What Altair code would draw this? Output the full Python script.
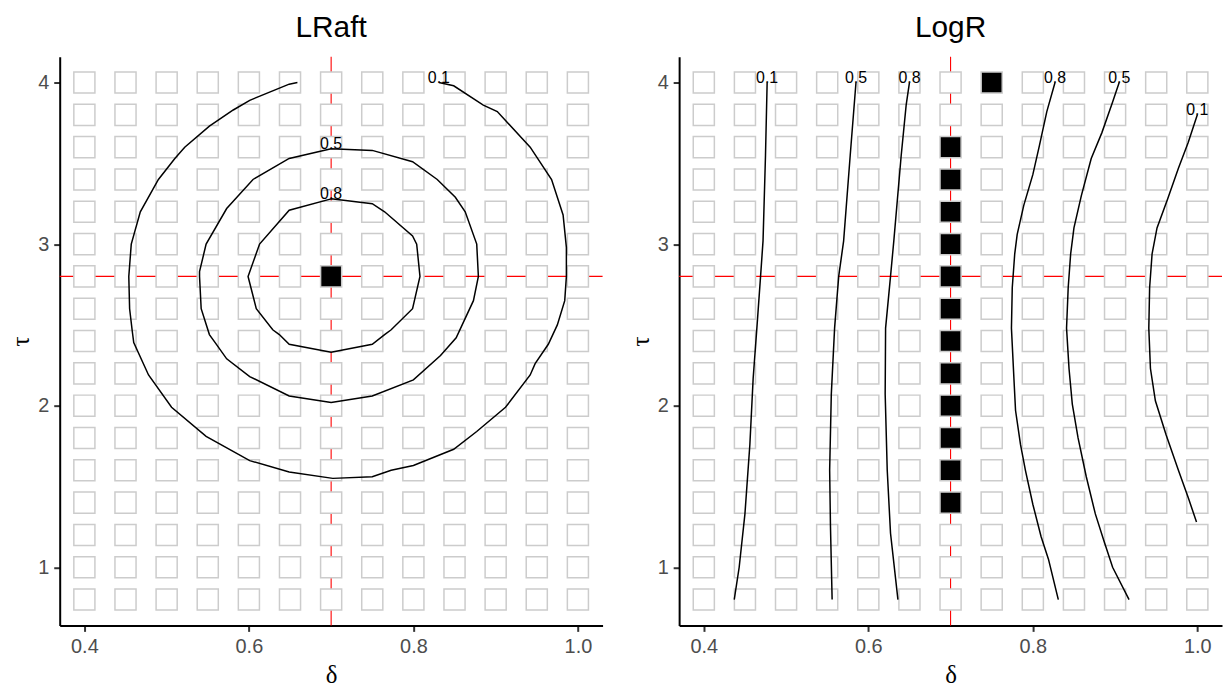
import altair as alt
import pandas as pd

# ---------------- data ----------------
DELTA = [0.40, 0.45, 0.50, 0.55, 0.60, 0.65, 0.70, 0.75, 0.80, 0.85, 0.90, 0.95, 1.00]
TAU = [0.8, 1.0, 1.2, 1.4, 1.6, 1.8, 2.0, 2.2, 2.4, 2.6, 2.8, 3.0, 3.2, 3.4, 3.6, 3.8, 4.0]

TRUE_DELTA = [0.7]
TRUE_TAU = [2.8]

LRAFT_SEL_DELTA = [0.70]
LRAFT_SEL_TAU = [2.8]
LOGR_SEL_DELTA = [0.70, 0.70, 0.70, 0.70, 0.70, 0.70, 0.70, 0.70, 0.70, 0.70, 0.70, 0.70, 0.75]
LOGR_SEL_TAU = [1.4, 1.6, 1.8, 2.0, 2.2, 2.4, 2.6, 2.8, 3.0, 3.2, 3.4, 3.6, 4.0]

# LRaft contours
LR01_D = [0.659, 0.649, 0.601, 0.581, 0.552, 0.522, 0.510, 0.490, 0.468, 0.457,
          0.454, 0.455, 0.458, 0.460, 0.478, 0.506, 0.548, 0.601, 0.649, 0.702,
          0.750, 0.773, 0.800, 0.849, 0.877, 0.912, 0.942, 0.948, 0.964, 0.975,
          0.984, 0.986, 0.986, 0.982, 0.968, 0.942, 0.902, 0.885, 0.849, 0.831]
LR01_T = [4.00, 3.99, 3.89, 3.83, 3.73, 3.60, 3.53, 3.40, 3.20, 3.00,
          2.80, 2.60, 2.47, 2.39, 2.19, 1.99, 1.81, 1.66, 1.59, 1.55,
          1.56, 1.60, 1.63, 1.73, 1.84, 1.99, 2.19, 2.26, 2.38, 2.50,
          2.65, 2.80, 2.98, 3.18, 3.40, 3.60, 3.82, 3.86, 3.98, 4.00]
LR05_D = [0.700, 0.649, 0.605, 0.573, 0.548, 0.540, 0.540, 0.542, 0.552, 0.559,
          0.573, 0.601, 0.649, 0.700, 0.750, 0.800, 0.833, 0.852, 0.873, 0.879,
          0.877, 0.863, 0.851, 0.829, 0.799, 0.750, 0.700]
LR05_T = [3.59, 3.53, 3.40, 3.22, 3.00, 2.83, 2.80, 2.60, 2.44, 2.39,
          2.29, 2.18, 2.06, 2.02, 2.06, 2.16, 2.31, 2.42, 2.65, 2.80,
          3.00, 3.20, 3.29, 3.40, 3.51, 3.58, 3.59]
LR08_D = [0.700, 0.649, 0.613, 0.599, 0.609, 0.629, 0.637, 0.649, 0.700, 0.750,
          0.765, 0.773, 0.799, 0.808, 0.804, 0.799, 0.765, 0.750, 0.700]
LR08_T = [3.28, 3.21, 3.00, 2.80, 2.60, 2.47, 2.44, 2.38, 2.33, 2.38,
          2.44, 2.47, 2.60, 2.80, 3.00, 3.05, 3.20, 3.25, 3.28]

# LogR contours
LG01A_D = [0.477, 0.475, 0.472, 0.469, 0.4645, 0.460, 0.456, 0.450, 0.443, 0.437]
LG01A_T = [4.00, 3.55, 3.02, 2.80, 2.48, 2.17, 1.76, 1.33, 1.00, 0.80]
LG05A_D = [0.585, 0.578, 0.570, 0.564, 0.559, 0.555, 0.553, 0.554, 0.556]
LG05A_T = [4.00, 3.55, 3.02, 2.80, 2.48, 2.07, 1.60, 1.25, 0.80]
LG08A_D = [0.650, 0.646, 0.640, 0.631, 0.627, 0.621, 0.6205, 0.623, 0.627, 0.636]
LG08A_T = [4.00, 3.86, 3.55, 3.02, 2.80, 2.48, 2.07, 1.60, 1.21, 0.80]
LG08B_D = [0.827, 0.817, 0.808, 0.800, 0.789, 0.781, 0.778, 0.775, 0.774, 0.777,
           0.779, 0.785, 0.791, 0.800, 0.810, 0.819, 0.831]
LG08B_T = [4.00, 3.82, 3.61, 3.43, 3.24, 3.06, 2.94, 2.73, 2.48, 2.17,
           1.97, 1.76, 1.60, 1.39, 1.19, 1.05, 0.80]
LG05B_D = [0.905, 0.897, 0.884, 0.871, 0.859, 0.850, 0.846, 0.843, 0.841, 0.844,
           0.848, 0.855, 0.865, 0.876, 0.886, 0.897, 0.917]
LG05B_T = [4.00, 3.88, 3.69, 3.53, 3.30, 3.10, 2.94, 2.73, 2.48, 2.23,
           2.01, 1.80, 1.56, 1.33, 1.17, 1.00, 0.80]
LG01B_D = [1.000, 0.989, 0.977, 0.964, 0.951, 0.945, 0.942, 0.941, 0.943, 0.949,
           0.962, 0.977, 0.989, 0.999]
LG01B_T = [3.80, 3.63, 3.47, 3.28, 3.10, 2.94, 2.73, 2.48, 2.23, 2.03,
           1.82, 1.60, 1.43, 1.28]

LRAFT_LAB_D = [0.831, 0.700, 0.700]
LRAFT_LAB_T = [4.00, 3.59, 3.28]
LRAFT_LAB = ["0.1", "0.5", "0.8"]
LOGR_LAB_D = [0.477, 0.585, 0.650, 0.827, 0.905, 1.000]
LOGR_LAB_T = [4.00, 4.00, 4.00, 4.00, 4.00, 3.80]
LOGR_LAB = ["0.1", "0.5", "0.8", "0.8", "0.5", "0.1"]

# ---------------- helpers ----------------
XS = alt.Scale(domain=[0.37, 1.03], nice=False, zero=False)
YS = alt.Scale(domain=[0.64, 4.16], nice=False, zero=False)


def grid_frame(sel_d, sel_t):
    sel = set((round(d, 2), round(t, 1)) for d, t in zip(sel_d, sel_t))
    rows = []
    for d in DELTA:
        for t in TAU:
            rows.append({"delta": d, "tau": t,
                         "sel": "yes" if (round(d, 2), round(t, 1)) in sel else "no"})
    return pd.DataFrame(rows)


def line_frame(lines):
    rows = []
    for pid, (xs, ys) in enumerate(lines):
        for i, (x, y) in enumerate(zip(xs, ys)):
            rows.append({"delta": x, "tau": y, "piece": pid, "idx": i})
    return pd.DataFrame(rows)


def panel(title, grid_df, lines_df, lab_df):
    x_enc = alt.X("delta:Q", scale=XS, title="δ",
                  axis=alt.Axis(values=[0.4, 0.6, 0.8, 1.0], format=".1f"))
    y_enc = alt.Y("tau:Q", scale=YS, title="τ",
                  axis=alt.Axis(values=[1, 2, 3, 4], format="d"))

    vrule = alt.Chart(pd.DataFrame({"delta": TRUE_DELTA})).mark_rule(
        color="red", strokeWidth=1.1).encode(x=x_enc)
    hrule = alt.Chart(pd.DataFrame({"tau": TRUE_TAU})).mark_rule(
        color="red", strokeWidth=1.1).encode(y=y_enc)

    squares = alt.Chart(grid_df).mark_square(
        size=450, strokeWidth=1.5, stroke="#cccccc", opacity=1, filled=True
    ).encode(
        x=x_enc, y=y_enc,
        fill=alt.Fill("sel:N", scale=alt.Scale(domain=["no", "yes"], range=["white", "black"]),
                      legend=None),
    )

    lines = alt.Chart(lines_df).mark_line(color="black", strokeWidth=1.5).encode(
        x=x_enc, y=y_enc, detail="piece:N", order="idx:Q")

    labels = alt.Chart(lab_df).mark_text(
        font="Liberation Sans", fontSize=16, color="black",
        align="center", baseline="alphabetic"
    ).encode(x=x_enc, y=y_enc, text="lab:N")

    return alt.layer(vrule, hrule, squares, lines, labels).properties(
        width=546, height=572, title=title)


left = panel(
    "LRaft",
    grid_frame(LRAFT_SEL_DELTA, LRAFT_SEL_TAU),
    line_frame([(LR01_D, LR01_T), (LR05_D, LR05_T), (LR08_D, LR08_T)]),
    pd.DataFrame({"delta": LRAFT_LAB_D, "tau": LRAFT_LAB_T, "lab": LRAFT_LAB}),
)
right = panel(
    "LogR",
    grid_frame(LOGR_SEL_DELTA, LOGR_SEL_TAU),
    line_frame([(LG01A_D, LG01A_T), (LG05A_D, LG05A_T), (LG08A_D, LG08A_T),
                (LG08B_D, LG08B_T), (LG05B_D, LG05B_T), (LG01B_D, LG01B_T)]),
    pd.DataFrame({"delta": LOGR_LAB_D, "tau": LOGR_LAB_T, "lab": LOGR_LAB}),
)

chart = alt.hconcat(left, right, spacing=77, bounds="flush").properties(
    padding={"left": 0, "top": 3, "right": 0, "bottom": 0}
).configure_view(stroke=None).configure_axis(
    grid=False, domainColor="black", domainWidth=2,
    tickColor="#333333", tickWidth=2, tickSize=6,
    labelColor="#4d4d4d", labelFontSize=20, labelFont="Liberation Sans", labelPadding=5,
    titleFont="Liberation Serif", titleFontSize=25, titleFontWeight="normal", titleColor="black",
).configure_axisX(titlePadding=6).configure_axisY(titlePadding=4).configure_title(
    font="Liberation Sans", fontSize=30, fontWeight="normal", color="black",
    anchor="middle", frame="group", baseline="alphabetic", offset=13,
)

chart.save("out.html", embed_options={"renderer": "svg", "actions": False})
